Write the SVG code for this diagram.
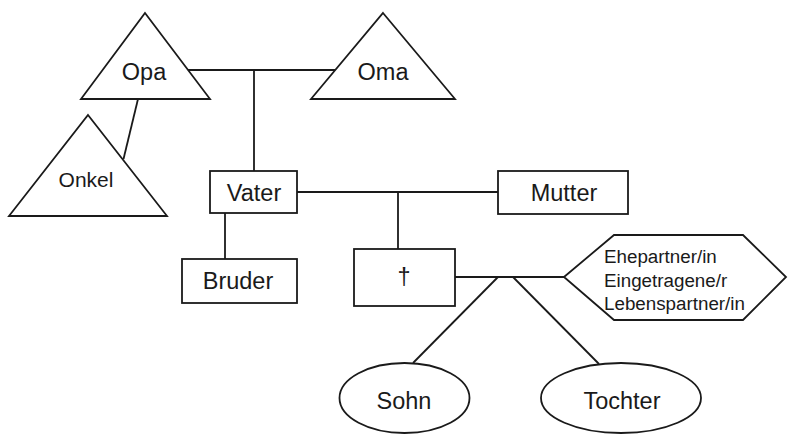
<svg xmlns="http://www.w3.org/2000/svg" width="788" height="434" viewBox="0 0 788 434">
<style>
.s{fill:#fff;stroke:#1a1a1a;stroke-width:1.8;stroke-linejoin:miter}
.c line{stroke:#1a1a1a;stroke-width:1.8}
text{font-family:"Liberation Sans",Arial,sans-serif;fill:#1a1a1a}
.m{font-size:23.5px;text-anchor:middle}
.o{font-size:21px;text-anchor:middle}
.h{font-size:18.8px}
</style>
<rect width="788" height="434" fill="#fff"/>
<g class="c" id="connectors">
<line x1="188" y1="70" x2="335" y2="70"/>
<line x1="254" y1="70" x2="254" y2="171"/>
<line x1="138" y1="99" x2="123.5" y2="159"/>
<line x1="297" y1="192" x2="498" y2="192"/>
<line x1="398" y1="192" x2="398" y2="249"/>
<line x1="225" y1="213" x2="225" y2="259"/>
<line x1="455" y1="277" x2="564" y2="277"/>
<line x1="498" y1="277" x2="413" y2="363"/>
<line x1="513" y1="277" x2="599" y2="364"/>
</g>
<g id="opa"><polygon class="s" points="145,13 210,99 81,99"/><text class="m" x="144" y="80">Opa</text></g>
<g id="oma"><polygon class="s" points="383,13 455,99 311,99"/><text class="m" x="383" y="80">Oma</text></g>
<g id="onkel"><polygon class="s" points="88,115 167,216 9,216"/><text class="o" x="86" y="187">Onkel</text></g>
<g id="vater"><rect class="s" x="210" y="171" width="87" height="42"/><text class="m" x="254" y="201">Vater</text></g>
<g id="mutter"><rect class="s" x="498" y="171" width="130" height="43"/><text class="m" x="564" y="201">Mutter</text></g>
<g id="bruder"><rect class="s" x="182" y="259" width="115" height="44"/><text class="m" x="238" y="289">Bruder</text></g>
<g id="verstorben"><rect class="s" x="354" y="249" width="101" height="57"/><text class="m" x="404" y="285">†</text></g>
<g id="partner"><polygon class="s" points="564,277 614,235 743,235 786,277 743,320 614,320"/>
<text class="h" x="604" y="263">Ehepartner/in</text>
<text class="h" x="604" y="286.5">Eingetragene/r</text>
<text class="h" x="604" y="309.5">Lebenspartner/in</text></g>
<g id="sohn"><ellipse class="s" cx="404.5" cy="398" rx="65" ry="35"/><text class="m" x="404" y="409">Sohn</text></g>
<g id="tochter"><ellipse class="s" cx="621" cy="398" rx="80" ry="35"/><text class="m" x="622" y="409">Tochter</text></g>
</svg>
